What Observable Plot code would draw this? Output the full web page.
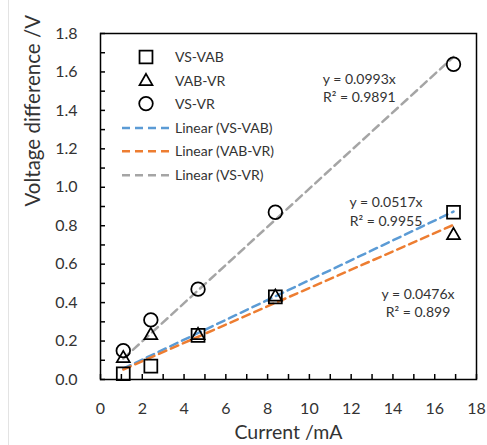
<!DOCTYPE html>
<html><head><meta charset="utf-8">
<script src="https://cdn.jsdelivr.net/npm/d3@7"></script>
<script src="https://cdn.jsdelivr.net/npm/@observablehq/plot@0.6"></script>
<style>
body{margin:0;background:#fff;}
#chart{position:relative;width:487px;height:445px;}
#edge{position:absolute;left:8px;top:0;width:0;height:445px;border-left:1px solid #e3e3e3;}
</style></head><body><div id="chart"><div id="edge"></div></div>
<script>
// ---- data ----
const seriesNames = ["VS-VAB", "VAB-VR", "VS-VR"];
const current = [1.09, 2.41, 4.67, 8.37, 16.9];          // mA
const vsVab  = [0.03, 0.07, 0.23, 0.43, 0.87];            // V
const vabVr  = [0.11, 0.23, 0.23, 0.43, 0.75];            // V
const vsVr   = [0.15, 0.31, 0.47, 0.87, 1.64];            // V
const slopes = [0.0517, 0.0476, 0.0993];
const r2Text = ["0.9955", "0.899", "0.9891"];
const xTickLabels = [0, 2, 4, 6, 8, 10, 12, 14, 16, 18];
const yTickLabels = [0, 0.2, 0.4, 0.6, 0.8, 1.0, 1.2, 1.4, 1.6, 1.8];
const xMinor = [0,1,2,3,4,5,6,7,8,9,10,11,12,13,14,15,16,17,18];
const yMinor = [0,0.1,0.2,0.3,0.4,0.5,0.6,0.7,0.8,0.9,1.0,1.1,1.2,1.3,1.4,1.5,1.6,1.7,1.8];

// ---- styling ----
const symbols = ["square", "triangle", "circle"];
const symbolR = [7.3, 4.8, 6.8];
const lineColors = ["#5B9BD5", "#ED7D31", "#A5A5A5"];
const font = "Lato, 'Open Sans', sans-serif";
const M = {top: 33, right: 11, bottom: 66, left: 100};

const valuesBySeries = [vsVab, vabVr, vsVr];
const points = seriesNames.map((s, i) => current.map((c, j) => ({series: s, x: c, y: valuesBySeries[i][j]})));
const trend = seriesNames.map((s, i) => {
  const lo = d3.min(current), hi = d3.max(current);
  return [{x: lo, y: slopes[i] * lo}, {x: hi, y: slopes[i] * hi}];
});

// annotation placement (pixel offsets from the frame's top-left)
const annPos = [[285.5, 164], [317.5, 255.6], [258.8, 40.6]];

function legendMark() {
  const g = d3.create("svg:g").attr("font-family", font).attr("font-size", 14).attr("fill", "#333").attr("text-anchor", "start");
  const x0 = M.left, y0 = M.top;
  const rows = [24, 48.3, 70.6, 95, 118.3, 142.3];
  seriesNames.forEach((s, i) => {
    g.append("path")
      .attr("d", d3.symbol(i === 0 ? d3.symbolSquare : i === 1 ? d3.symbolTriangle : d3.symbolCircle, Math.PI * symbolR[i] * symbolR[i])())
      .attr("transform", `translate(${x0 + 46},${y0 + rows[i]})`)
      .attr("fill", "none").attr("stroke", "black").attr("stroke-width", 1.75);
    g.append("text").attr("x", x0 + 75).attr("y", y0 + rows[i]).attr("dy", "0.35em").attr("text-anchor", "start").text(s);
  });
  seriesNames.forEach((s, i) => {
    const y = y0 + rows[3 + i];
    g.append("line").attr("x1", x0 + 22).attr("x2", x0 + 69).attr("y1", y).attr("y2", y)
      .attr("stroke", lineColors[i]).attr("stroke-width", 2.5).attr("stroke-dasharray", "8,5");
    g.append("text").attr("x", x0 + 75).attr("y", y).attr("dy", "0.35em").attr("text-anchor", "start").text(`Linear (${s})`);
  });
  return g.node();
}

const marks = [];
// trendlines
trend.forEach((t, i) => marks.push(Plot.line(t, {x: "x", y: "y", stroke: lineColors[i], strokeWidth: 2.5, strokeDasharray: "8,5"})));
// data markers
points.forEach((p, i) => marks.push(Plot.dot(p, {x: "x", y: "y", symbol: () => symbols[i], r: symbolR[i], stroke: "black", strokeWidth: 1.75, fill: "none"})));
// equation annotations
seriesNames.forEach((s, i) => {
  marks.push(Plot.text([`y = ${slopes[i]}x`], {frameAnchor: "top-left", dx: annPos[i][0], dy: annPos[i][1], textAnchor: "middle", fontSize: 14, fill: "#333", fontFamily: font}));
  marks.push(Plot.text([`R² = ${r2Text[i]}`], {frameAnchor: "top-left", dx: annPos[i][0], dy: annPos[i][1] + 18.4, textAnchor: "middle", fontSize: 14, fill: "#333", fontFamily: font}));
});
// axes
marks.push(Plot.axisX({ticks: xTickLabels, tickSize: 0, tickPadding: 23, fontSize: 16, label: null, fill: "#333"}));
marks.push(Plot.axisY({ticks: yTickLabels, tickSize: 0, tickPadding: 23, fontSize: 16, tickFormat: d3.format(".1f"), label: null, fill: "#333"}));
marks.push(Plot.axisX({ticks: xMinor, tickSize: 5, dy: -5, text: null, label: null, stroke: "black", strokeWidth: 1.5}));
marks.push(Plot.axisY({ticks: yMinor, tickSize: 5, dx: 5, text: null, label: null, stroke: "black", strokeWidth: 1.5}));
marks.push(Plot.frame({stroke: "black", strokeWidth: 1.5}));
// axis titles
marks.push(Plot.text(["Current /mA"], {frameAnchor: "bottom", dy: 59, fontSize: 19.5, fill: "#333", fontFamily: font}));
marks.push(Plot.text(["Voltage difference /V"], {frameAnchor: "left", dx: -67, rotate: -90, fontSize: 20.5, fill: "#333", fontFamily: font}));
marks.push(legendMark);

const chart = Plot.plot({
  width: 487, height: 445,
  marginTop: M.top, marginRight: M.right, marginBottom: M.bottom, marginLeft: M.left,
  style: {fontFamily: font, background: "transparent", color: "#333"},
  x: {domain: [0, 18]},
  y: {domain: [0, 1.8]},
  marks
});
document.getElementById("chart").appendChild(chart);
chart.style.position = "absolute"; chart.style.left = "0"; chart.style.top = "0";
</script></body></html>
